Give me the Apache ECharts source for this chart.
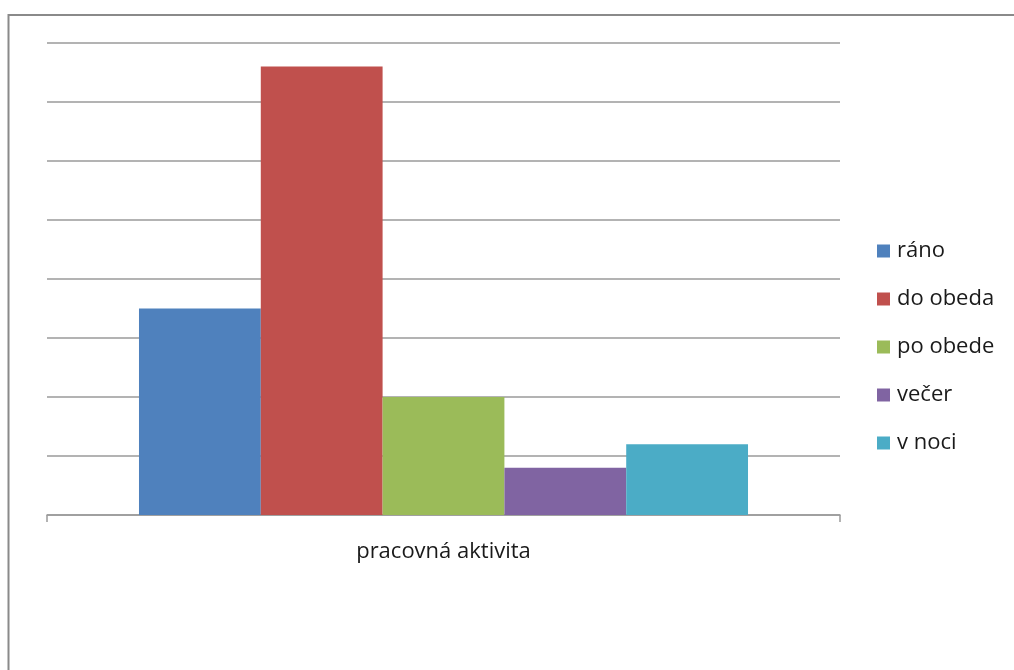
<!DOCTYPE html>
<html>
<head>
<meta charset="utf-8">
<script src="https://cdn.jsdelivr.net/npm/echarts@6/dist/echarts.min.js"></script>
<style>
  html, body { margin: 0; padding: 0; background: #fff; }
  #chart { width: 1014px; height: 670px; }
</style>
</head>
<body>
<div id="chart"></div>
<script>
// Category on the x axis
const categories = ['pracovná aktivita'];
// One series per part of the day
const seriesNames = ['ráno', 'do obeda', 'po obede', 'večer', 'v noci'];
const seriesValues = [3.5, 7.6, 2.0, 0.8, 1.2];
const seriesColors = ['#4F81BD', '#C0504D', '#9BBB59', '#8064A2', '#4BACC6'];

const font = '"Open Sans", "Noto Sans", sans-serif';

const chart = echarts.init(document.getElementById('chart'), null, { renderer: 'canvas' });

chart.setOption({
  animation: false,
  backgroundColor: '#ffffff',
  grid: { left: 47, right: 174, top: 43, bottom: 155, containLabel: false },
  legend: {
    orient: 'vertical',
    left: 872,
    top: 235,
    itemWidth: 13,
    itemHeight: 13,
    itemGap: 26,
    icon: 'rect',
    textStyle: { fontFamily: font, fontSize: 22, lineHeight: 22, color: '#1a1a1a', padding: [0, 0, 0, 2] },
    data: seriesNames
  },
  xAxis: {
    type: 'category',
    data: categories,
    boundaryGap: true,
    axisLine: { show: true, lineStyle: { color: '#9a9a9a', width: 1.5 } },
    axisTick: { show: true, length: 7, lineStyle: { color: '#9a9a9a', width: 1.5 } },
    axisLabel: { fontFamily: font, fontSize: 22, color: '#1a1a1a', margin: 26 }
  },
  yAxis: {
    type: 'value',
    min: 0,
    max: 8,
    interval: 1,
    axisLine: { show: false },
    axisTick: { show: false },
    axisLabel: { show: false },
    splitLine: { show: true, lineStyle: { color: '#9a9a9a', width: 1.5 } }
  },
  series: seriesNames.map((name, i) => ({
    name: name,
    type: 'bar',
    data: [seriesValues[i]],
    barGap: '0%',
    barCategoryGap: '23.2%',
    itemStyle: { color: seriesColors[i] }
  })),
  graphic: [{
    type: 'rect',
    shape: { x: 8.5, y: 15, width: 1100, height: 700 },
    style: { fill: 'none', stroke: '#8a8a8a', lineWidth: 2 },
    silent: true
  }]
});
</script>
</body>
</html>
